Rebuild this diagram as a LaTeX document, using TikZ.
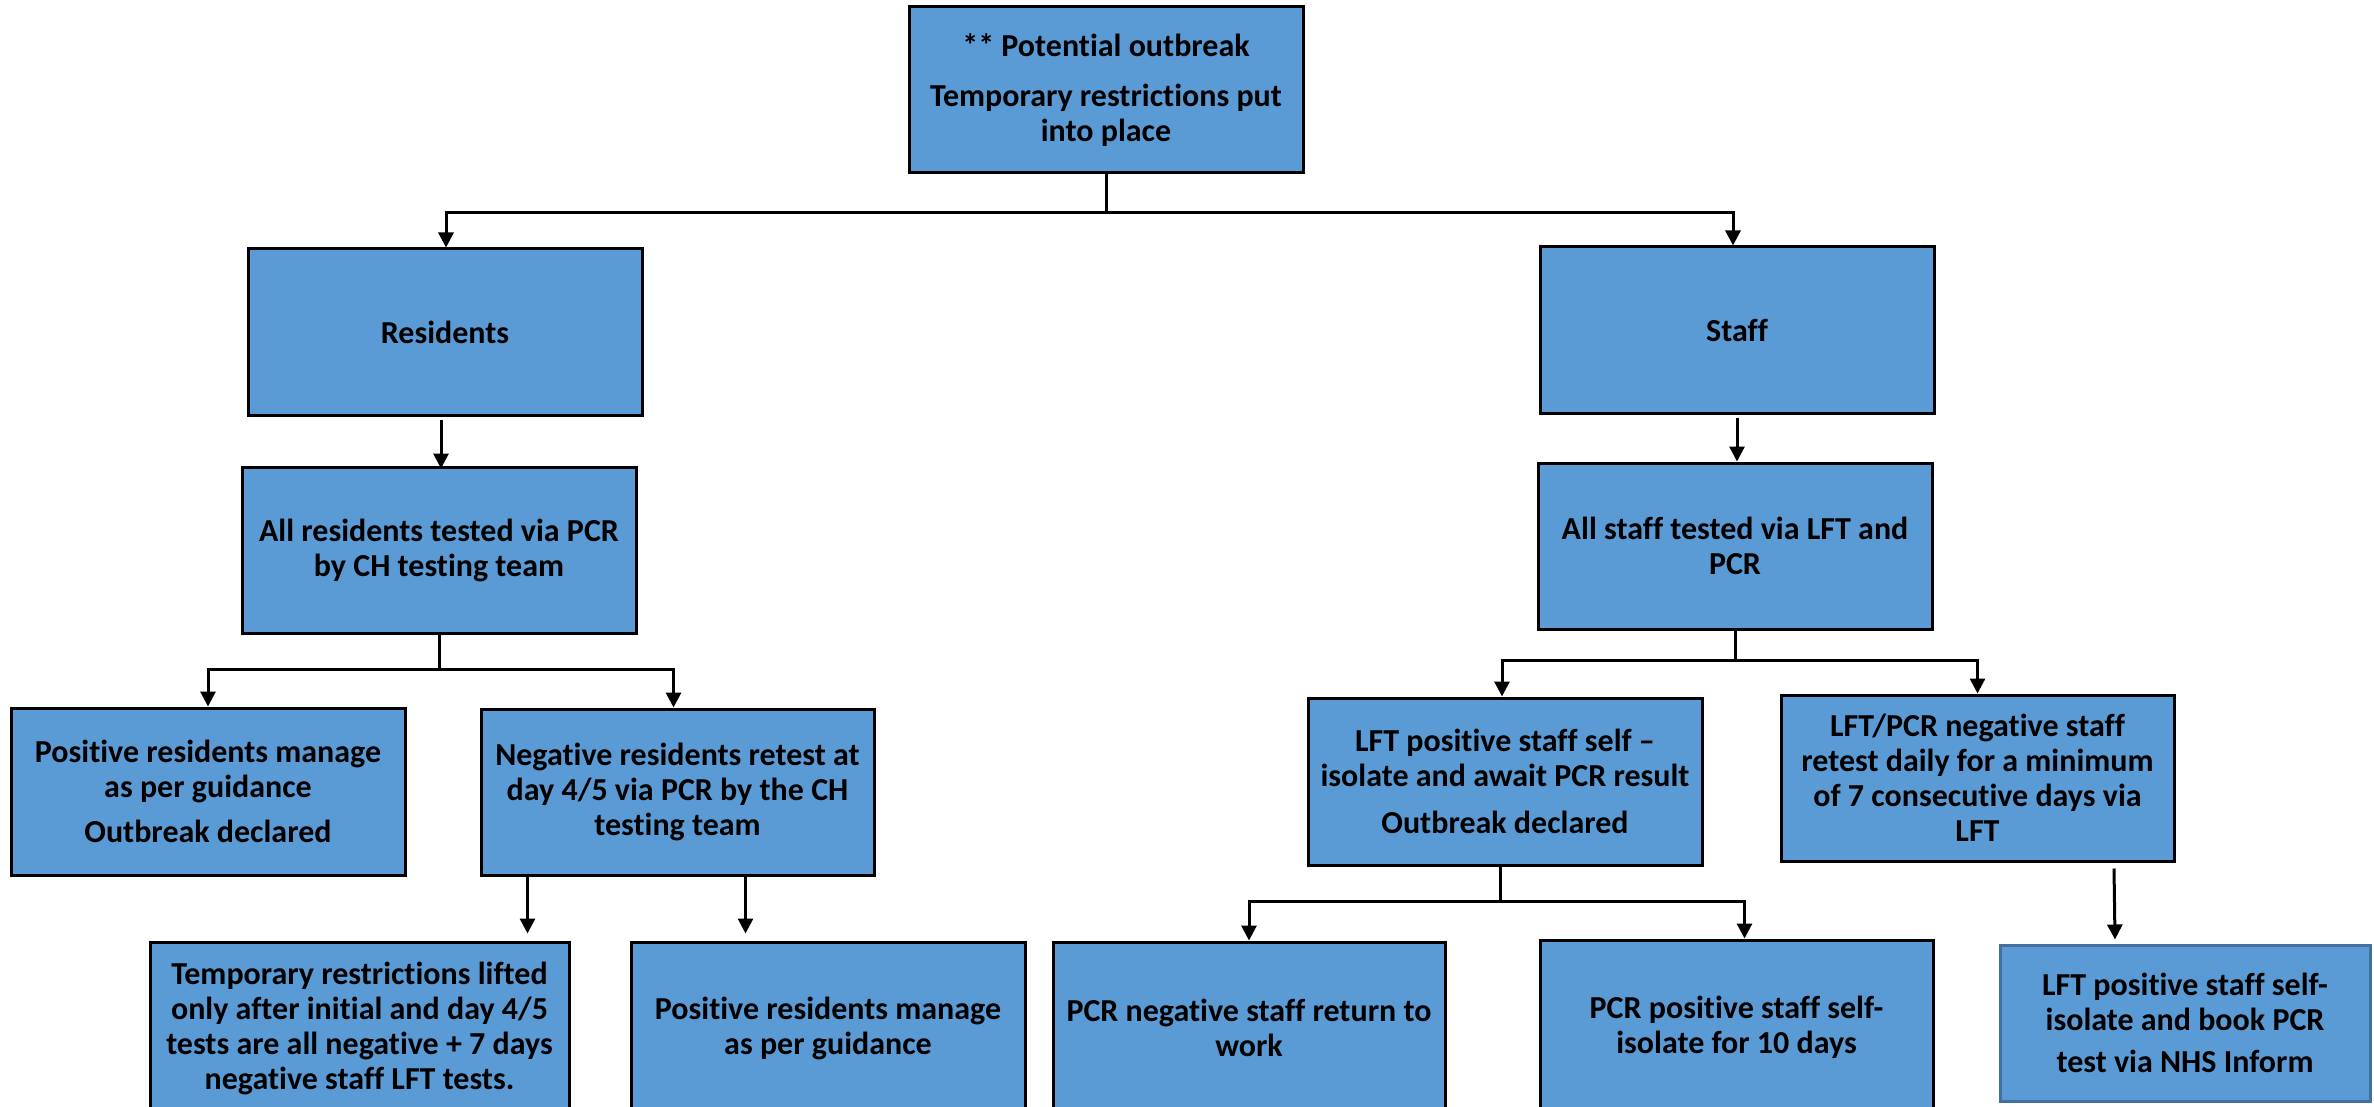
\documentclass[tikz,border=0pt]{standalone}
\usepackage{fontspec}
\setmainfont{Carlito}[Ligatures={NoCommon}]
\usetikzlibrary{arrows.meta,calc}
\definecolor{boxblue}{RGB}{91,155,213}
\definecolor{softedge}{RGB}{65,113,156}
\begin{document}
\begin{tikzpicture}[x=1pt,y=-1pt,
  box/.style={draw=black, line width=3pt, fill=boxblue, align=center, inner sep=0pt,
    font=\fontsize{32}{35}\selectfont\bfseries, minimum width=394pt, minimum height=166pt},
  conn/.style={line width=3pt, black},
  arr/.style={conn, -{Triangle[length=15pt,width=15pt]}},
]
\clip (0,0) rectangle (2374,1107);
\fill[white] (0,0) rectangle (2374,1107);

\node[box] (top) at (1106,90) {** Potential outbreak\\[15pt]Temporary restrictions put\\into place};
\node[box] (res) at (445,332) {Residents};
\node[box] (staff) at (1737,330) {Staff};
\node[box] (allres) at (439,550) {All residents tested via PCR\\by CH testing team};
\node[box] (allstaff) at (1735,546) {All staff tested via LFT and\\PCR};
\node[box, minimum height=167pt] (posres) at (208,791.5) {Positive residents manage\\as per guidance\\[10pt]Outbreak declared};
\node[box, minimum width=393pt] (negres) at (677.5,792) {Negative residents retest at\\day 4/5 via PCR by the CH\\testing team};
\node[box, minimum height=167pt] (lftpos) at (1505,781.5) {LFT positive staff self --\\isolate and await PCR result\\[12pt]Outbreak declared};
\node[box, minimum width=393pt] (lftneg) at (1977.5,778) {LFT/PCR negative staff\\retest daily for a minimum\\of 7 consecutive days via\\LFT};
\node[box, minimum width=419pt, minimum height=172pt] (templift) at (359.5,1028) {Temporary restrictions lifted\\only after initial and day 4/5\\tests are all negative + 7 days\\negative staff LFT tests.};
\node[box, minimum height=172pt] (posres2) at (828,1028) {Positive residents manage\\as per guidance};
\node[box, minimum width=392pt, minimum height=172pt] (pcrneg) at (1249,1028) {PCR negative staff return to\\work};
\node[box, minimum width=393pt, minimum height=174pt] (pcrpos) at (1736.5,1027) {PCR positive staff self-\\isolate for 10 days};
\node[box, draw=softedge, minimum width=370pt, minimum height=156pt] (lftfinal) at (2185,1023) {LFT positive staff self-\\isolate and book PCR\\[7pt]test via NHS Inform};

% top split
\draw[conn] (top.south) -- ++(0,38) coordinate (tj);
\draw[arr] (tj) -| ($(res.north)+(1,0)$);
\draw[arr] (tj) -| ($(staff.north)+(-4,0)$);

% straight downs
\draw[arr] ($(res.south)+(-4,3)$) -- ($(res.south)+(-4,52)$);
\draw[arr] ($(staff.south)+(0,3)$) -- (staff.south |- allstaff.north);

% residents split
\draw[conn] (allres.south) -- ++(0,35) coordinate (rj);
\draw[arr] (rj) -| (posres.north);
\draw[arr] (rj) -| ($(negres.north)+(-4,0)$);

% staff split
\draw[conn] (allstaff.south) -- ++(0,30) coordinate (sj);
\draw[arr] (sj) -| ($(lftpos.north)+(-3,0)$);
\draw[arr] (sj) -| (lftneg.north);

% negative residents to bottom row
\draw[arr] ($(negres.south west)+(48,0)$) -- ($(templift.north west)+(379,-7)$);
\draw[arr] ($(negres.south west)+(266,0)$) -- ($(posres2.north west)+(116,-7)$);

% LFT positive split
\draw[conn] ($(lftpos.south)+(-5,0)$) -- ++(0,35) coordinate (lj);
\draw[arr] (lj) -| (pcrneg.north);
\draw[arr] (lj) -| ($(pcrpos.north)+(8,0)$);

% LFT/PCR negative to final
\draw[arr] ($(lftneg.south)+(136.5,6)$) -- ($(lftfinal.north)+(-70,-4)$);
\end{tikzpicture}
\end{document}
